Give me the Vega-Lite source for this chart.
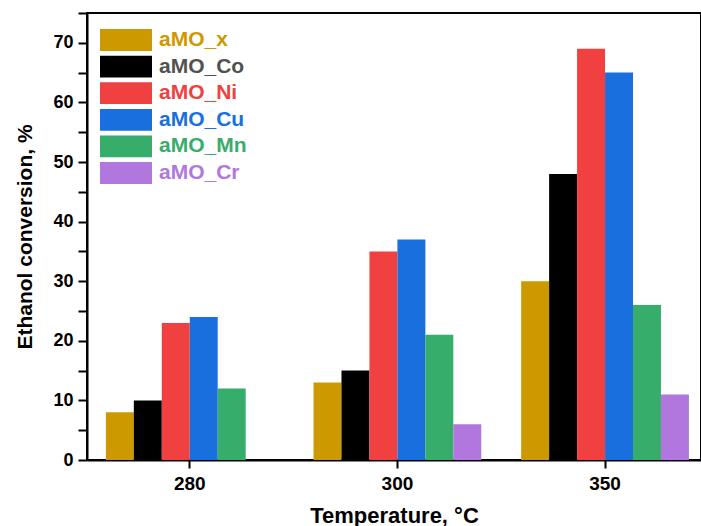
{
  "$schema": "https://vega.github.io/schema/vega-lite/v6.json",
  "width": 614,
  "height": 447,
  "autosize": "none",
  "padding": {"left": 87, "top": 13, "right": 0, "bottom": 66},
  "background": "white",
  "config": {
    "view": {"stroke": "black", "strokeWidth": 2},
    "font": "Liberation Sans",
    "axis": {"grid": false}
  },
  "data": {
    "values": [
      {"temp": "280", "catalyst": "aMO_x", "conversion": 8},
      {"temp": "280", "catalyst": "aMO_Co", "conversion": 10},
      {"temp": "280", "catalyst": "aMO_Ni", "conversion": 23},
      {"temp": "280", "catalyst": "aMO_Cu", "conversion": 24},
      {"temp": "280", "catalyst": "aMO_Mn", "conversion": 12},
      {"temp": "300", "catalyst": "aMO_x", "conversion": 13},
      {"temp": "300", "catalyst": "aMO_Co", "conversion": 15},
      {"temp": "300", "catalyst": "aMO_Ni", "conversion": 35},
      {"temp": "300", "catalyst": "aMO_Cu", "conversion": 37},
      {"temp": "300", "catalyst": "aMO_Mn", "conversion": 21},
      {"temp": "300", "catalyst": "aMO_Cr", "conversion": 6},
      {"temp": "350", "catalyst": "aMO_x", "conversion": 30},
      {"temp": "350", "catalyst": "aMO_Co", "conversion": 48},
      {"temp": "350", "catalyst": "aMO_Ni", "conversion": 69},
      {"temp": "350", "catalyst": "aMO_Cu", "conversion": 65},
      {"temp": "350", "catalyst": "aMO_Mn", "conversion": 26},
      {"temp": "350", "catalyst": "aMO_Cr", "conversion": 11}
    ]
  },
  "mark": {"type": "bar"},
  "encoding": {
    "x": {
      "field": "temp",
      "type": "nominal",
      "scale": {"paddingInner": 0.192, "paddingOuter": 0.0745, "align": 0.61},
      "axis": {
        "title": "Temperature, °C",
        "titleFont": "Liberation Sans",
        "titleFontSize": 22,
        "titleFontWeight": "bold",
        "titleColor": "black",
        "titlePadding": 12,
        "labelAngle": 0,
        "labelFont": "Liberation Sans",
        "labelFontSize": 19,
        "labelFontWeight": "bold",
        "labelColor": "black",
        "labelPadding": 6,
        "tickSize": 8,
        "tickWidth": 2,
        "tickColor": "black",
        "domainColor": "black",
        "domainWidth": 2
      }
    },
    "xOffset": {
      "field": "catalyst",
      "type": "nominal",
      "sort": ["aMO_x", "aMO_Co", "aMO_Ni", "aMO_Cu", "aMO_Mn", "aMO_Cr"],
      "scale": {"paddingInner": 0, "paddingOuter": 0}
    },
    "y": {
      "field": "conversion",
      "type": "quantitative",
      "scale": {"domain": [0, 75], "nice": false},
      "axis": {
        "title": "Ethanol conversion, %",
        "titleFont": "Liberation Sans",
        "titleFontSize": 21,
        "titleFontWeight": "bold",
        "titleColor": "black",
        "titlePadding": 17,
        "values": [0, 5, 10, 15, 20, 25, 30, 35, 40, 45, 50, 55, 60, 65, 70, 75],
        "labelExpr": "datum.value % 10 === 0 && datum.value <= 70 ? datum.label : ''",
        "labelFont": "Liberation Sans",
        "labelFontSize": 18,
        "labelFontWeight": "bold",
        "labelColor": "black",
        "labelPadding": 5,
        "tickSize": 9,
        "tickWidth": 2,
        "tickColor": "black",
        "domainColor": "black",
        "domainWidth": 2,
        "encode": {
          "ticks": {
            "update": {
              "x2": {"signal": "datum.value % 10 === 0 ? -9 : -5"}
            }
          }
        }
      }
    },
    "color": {
      "field": "catalyst",
      "type": "nominal",
      "sort": ["aMO_x", "aMO_Co", "aMO_Ni", "aMO_Cu", "aMO_Mn", "aMO_Cr"],
      "scale": {
        "domain": ["aMO_x", "aMO_Co", "aMO_Ni", "aMO_Cu", "aMO_Mn", "aMO_Cr"],
        "range": ["#CC9900", "#000000", "#F14040", "#1A6FDF", "#37AD6B", "#B177DE"]
      },
      "legend": {
        "orient": "none",
        "legendX": 26,
        "legendY": 14,
        "title": null,
        "padding": 0,
        "symbolType": "M-2,-0.84H2V0.84H-2Z",
        "symbolSize": 676,
        "symbolStrokeWidth": 0,
        "symbolOpacity": 1,
        "labelFont": "Liberation Sans",
        "labelFontSize": 21,
        "labelFontWeight": "bold",
        "labelOffset": 20,
        "rowPadding": 2.6,
        "labelLimit": 200,
        "encode": {
          "labels": {
            "update": {
              "fill": {"signal": "datum.value === 'aMO_x' ? '#CC9900' : datum.value === 'aMO_Co' ? '#515151' : datum.value === 'aMO_Ni' ? '#F14040' : datum.value === 'aMO_Cu' ? '#1A6FDF' : datum.value === 'aMO_Mn' ? '#37AD6B' : '#B177DE'"}
            }
          }
        }
      }
    }
  }
}
